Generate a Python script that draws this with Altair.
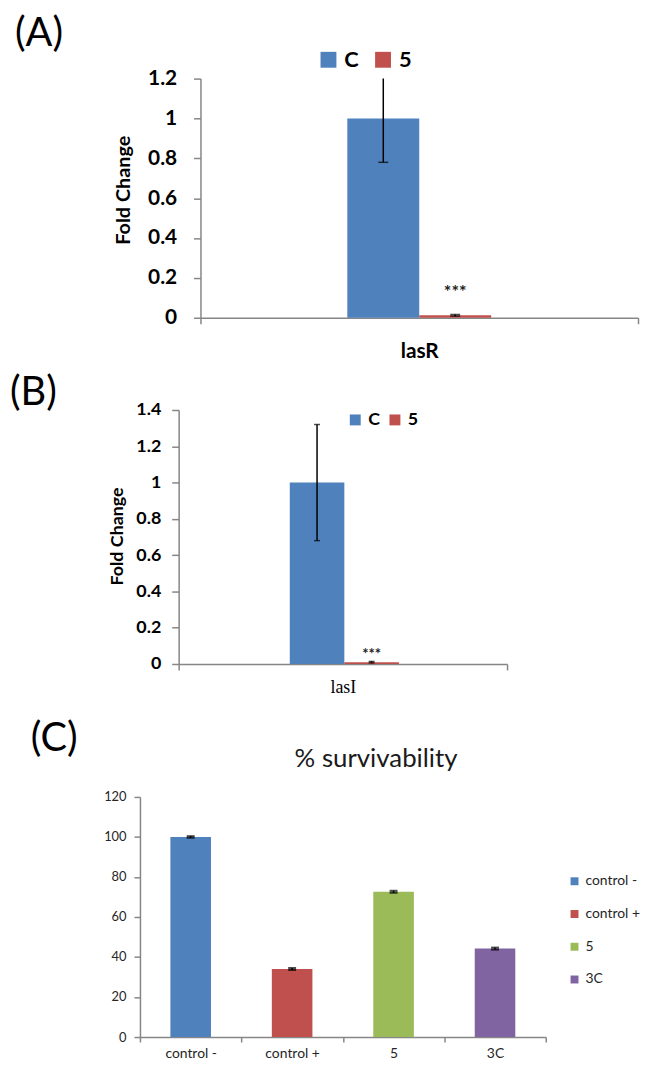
import altair as alt
import pandas as pd

FONT = "Lato"
BLACK = "#000000"
AXIS_GRAY = "#868686"
TEXT_DARK = "#262626"

# ---------------- data ----------------
panel_labels = ["(A)", "(B)", "(C)"]
series = ["C", "5"]
series_colors = ["#4F81BD", "#C0504D"]
y_title = "Fold Change"
signif = "***"

gene_A = ["lasR", "lasR"]
A_values = [1.0, 0.012]
A_low = [0.78, 0.008]
A_high = [1.25, 0.016]
A_ticks = [0, 0.2, 0.4, 0.6, 0.8, 1.0, 1.2]

gene_B = ["lasI", "lasI"]
B_values = [1.0, 0.01]
B_low = [0.68, 0.006]
B_high = [1.32, 0.014]
B_ticks = [0, 0.2, 0.4, 0.6, 0.8, 1.0, 1.2, 1.4]

C_title = "% survivability"
C_groups = ["control -", "control +", "5", "3C"]
C_colors = ["#4F81BD", "#C0504D", "#9BBB59", "#8064A2"]
C_values = [100.0, 34.0, 72.6, 44.2]
C_err = [0.4, 0.5, 0.5, 0.5]
C_ticks = [0, 20, 40, 60, 80, 100, 120]

ANCHOR_X = -132.5   # all panels share the same plot origin (page x = 141)


def anchor(y1, y2):
    return alt.Chart(pd.DataFrame({"a": [0]})).mark_rule(
        strokeOpacity=0, strokeWidth=1
    ).encode(x=alt.value(ANCHOR_X), y=alt.value(y1), y2=alt.value(y2))


def label_text(txt, x, y, size=40):
    return alt.Chart(pd.DataFrame({"t": [txt]})).mark_text(
        align="left", baseline="top", font=FONT, fontSize=size, color=BLACK
    ).encode(text="t:N", x=alt.value(x), y=alt.value(y))


def fold_panel(genes, values, lows, highs, ticks, ymax, label, p):
    df = pd.DataFrame({"gene": genes, "grp": series, "value": values,
                       "low": lows, "high": highs})
    x = alt.X("gene:N", title=None,
              scale=alt.Scale(range=p["xrange"], paddingInner=0, paddingOuter=0),
              axis=alt.Axis(labelAngle=0, labelFont=p["xfont"], labelFontSize=p["xsize"],
                            labelFontWeight=p["xweight"], labelColor=BLACK,
                            labelPadding=p["xpad"], domainColor=AXIS_GRAY, domainWidth=1.5,
                            tickColor=AXIS_GRAY, tickWidth=1.5, tickSize=6,
                            tickBand="extent"))
    xo = alt.XOffset("grp:N", sort=series,
                     scale=alt.Scale(domain=series, range=p["orange"],
                                     paddingInner=0, paddingOuter=0))
    yaxis = alt.Axis(values=ticks, format="~g", grid=False, labelOverlap=False,
                     offset=p["yoff"], labelFont=FONT,
                     labelFontSize=p["ysize"], labelFontWeight="bold", labelColor=BLACK,
                     labelPadding=p["ypad"], tickSize=7, tickColor=AXIS_GRAY, tickWidth=1.5,
                     domainColor=AXIS_GRAY, domainWidth=1.5, titleFont=FONT,
                     titleFontSize=p["tsize"], titleFontWeight="bold", titleColor=BLACK,
                     titleAngle=270, titleX=p["tx"], titleY=p["ty"], titleAlign="center",
                     titleBaseline="middle")
    yscale = alt.Scale(domain=[0, ymax], nice=False, zero=True)

    def Y(field):
        return alt.Y(field, title=y_title, scale=yscale, axis=yaxis)

    base = alt.Chart(df)
    bars = base.mark_bar().encode(
        x=x, xOffset=xo, y=Y("value:Q"),
        color=alt.Color("grp:N", sort=series,
                        scale=alt.Scale(domain=series, range=series_colors),
                        legend=alt.Legend(orient="none", legendX=p["lgx"], legendY=p["lgy"],
                                          direction="horizontal", title=None,
                                          symbolType="square", symbolSize=p["lgsym"],
                                          symbolStrokeWidth=0, labelFont=FONT,
                                          labelFontSize=p["lgsize"], labelFontWeight="bold",
                                          labelColor=BLACK, labelOffset=p["lgoff"],
                                          columnPadding=p["lgcol"], padding=0)),
    )
    err = base.mark_rule(color=BLACK, strokeWidth=1.5, clip=True).encode(
        x=x, xOffset=xo, y=Y("low:Q"), y2="high:Q")
    cap_lo = base.mark_tick(color=BLACK, thickness=1.5, size=p["cap"]).encode(
        x=x, xOffset=xo, y=Y("low:Q"))
    cap_hi = base.mark_tick(color=BLACK, thickness=1.5, size=p["cap"], clip=True).encode(
        x=x, xOffset=xo, y=Y("high:Q"))
    stars = base.transform_filter(alt.datum.grp == series[1]).mark_text(
        text=signif, font=FONT, fontWeight="bold", fontSize=p["ssize"],
        color="#222222", baseline="alphabetic", dy=p["sdy"]
    ).encode(x=x, xOffset=xo, y=Y("value:Q"))
    lab = label_text(label, p["lx"], p["ly"])
    anc = anchor(p["ay1"], p["ay2"])
    return alt.layer(anc, bars, err, cap_lo, cap_hi, stars, lab).properties(
        width=p["w"], height=p["h"])


# plot origin of every panel is page x = 141
panelA = fold_panel(gene_A, A_values, A_low, A_high, A_ticks, 1.2, panel_labels[0], dict(
    w=502, h=241, xrange=[61, 502], yoff=-61, orange=[148, 293], xfont=FONT, xsize=21,
    xweight="bold", xpad=17, ysize=21, ypad=17, tsize=20, tx=-78, ty=112, lgx=179,
    lgy=-30, lgsym=256, lgsize=22, lgoff=5, lgcol=13, cap=10, ssize=18, sdy=-17,
    lx=-126, ly=-65, ay1=-66.5, ay2=286))

panelB = fold_panel(gene_B, B_values, B_low, B_high, B_ticks, 1.4, panel_labels[1], dict(
    w=370, h=256, xrange=[39, 370], yoff=-39, orange=[112, 222],
    xfont="Liberation Serif", xsize=18, xweight="normal", xpad=9, ysize=18, ypad=11,
    tsize=18, tx=-62, ty=127, lgx=208, lgy=1, lgsym=121, lgsize=18, lgoff=4, lgcol=6,
    cap=6, ssize=15, sdy=-3, lx=-131, ly=-37, ay1=-47.5, ay2=307))

# ---------------- panel C ----------------
dfC = pd.DataFrame({"cat": C_groups, "value": C_values,
                    "low": [v - e for v, e in zip(C_values, C_err)],
                    "high": [v + e for v, e in zip(C_values, C_err)]})
xC = alt.X("cat:N", sort=C_groups, title=None,
           scale=alt.Scale(paddingInner=0, paddingOuter=0),
           axis=alt.Axis(labelAngle=0, labelFont=FONT, labelFontSize=14, labelColor=TEXT_DARK,
                         labelPadding=5, domainColor=AXIS_GRAY, domainWidth=1.5,
                         tickColor=AXIS_GRAY, tickWidth=1.5, tickSize=5, tickBand="extent"))
yC_scale = alt.Scale(domain=[0, 120], nice=False)
yC_axis = alt.Axis(values=C_ticks, grid=False, labelOverlap=False, labelFont=FONT,
                   labelFontSize=13, labelColor=TEXT_DARK, labelPadding=8, tickSize=6,
                   tickColor=AXIS_GRAY, tickWidth=1.5, domainColor=AXIS_GRAY, domainWidth=1.5)


def YC(field):
    return alt.Y(field, title=None, scale=yC_scale, axis=yC_axis)


baseC = alt.Chart(dfC)
barsC = baseC.mark_bar(width=alt.RelativeBandSize(0.4)).encode(
    x=xC, y=YC("value:Q"),
    color=alt.Color("cat:N", sort=C_groups,
                    scale=alt.Scale(domain=C_groups, range=C_colors),
                    legend=alt.Legend(orient="none", legendX=431, legendY=78,
                                      direction="vertical", title=None, symbolType="square",
                                      symbolSize=64, symbolStrokeWidth=0, labelFont=FONT,
                                      labelFontSize=14, labelColor=TEXT_DARK, labelOffset=4,
                                      rowPadding=19, padding=0)),
)
errC = baseC.mark_rule(color=BLACK, strokeWidth=1.5).encode(
    x=xC, y=YC("low:Q"), y2="high:Q")
capC_lo = baseC.mark_tick(color=BLACK, thickness=2, size=8).encode(x=xC, y=YC("low:Q"))
capC_hi = baseC.mark_tick(color=BLACK, thickness=2, size=8).encode(x=xC, y=YC("high:Q"))
titleC = alt.Chart(pd.DataFrame({"t": [C_title]})).mark_text(
    align="center", baseline="middle", font=FONT, fontSize=26, color="#1a1a1a"
).encode(text="t:N", x=alt.value(238), y=alt.value(-38))
labC = label_text(panel_labels[2], -110, -78)
ancC = anchor(-82.5, 263)
panelC = alt.layer(ancC, barsC, errC, capC_lo, capC_hi, titleC, labC).properties(
    width=409, height=242)

chart = alt.vconcat(panelA, panelB, panelC, spacing=0).resolve_scale(
    x="independent", y="independent", color="independent", xOffset="independent"
).resolve_legend(color="independent").properties(
    padding=0, background="white"
).configure_view(stroke=None)

chart.save("out.html", embed_options={"renderer": "svg", "actions": False})
